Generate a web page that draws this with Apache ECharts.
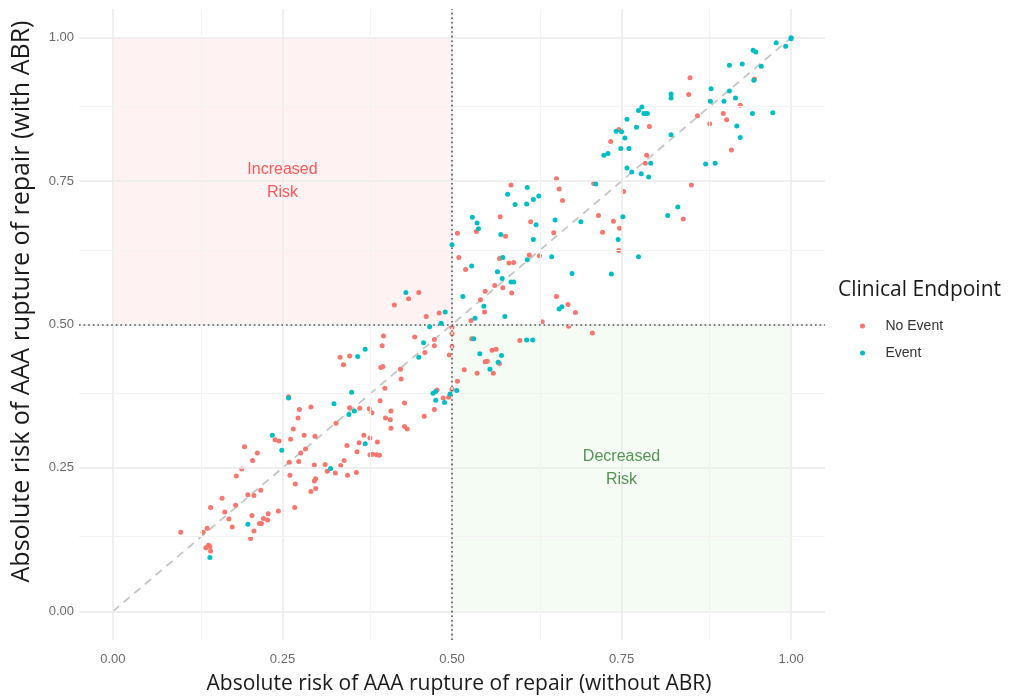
<!DOCTYPE html>
<html><head><meta charset="utf-8">
<script src="https://cdn.jsdelivr.net/npm/echarts@6/dist/echarts.min.js"></script>
<style>html,body{margin:0;padding:0;background:#fff}#c{width:1012px;height:700px}</style>
</head><body><div id="c"></div>
<script>
const majorTicks = [0, 0.25, 0.5, 0.75, 1];
const minorTicks = [0.125, 0.375, 0.625, 0.875];
const threshold = 0.5;
const diagonal = [[0, 0], [1, 1]];
const seriesNames = ['No Event', 'Event'];
const increasedRegion = [[0, 0.5], [0.5, 1]];
const decreasedRegion = [[0.5, 0], [1, 0.5]];
const increasedLabel = ['Increased\nRisk', 0.25, 0.75];
const decreasedLabel = ['Decreased\nRisk', 0.75, 0.25];

const noEvent = [
[0.259,0.374],[0.275,0.352],[0.273,0.337],[0.266,0.318],[0.239,0.299],[0.245,0.297],[0.262,0.300],[0.194,0.287],
[0.213,0.276],[0.206,0.263],[0.260,0.260],[0.274,0.261],[0.190,0.248],[0.182,0.236],[0.261,0.237],[0.269,0.222],
[0.218,0.211],[0.208,0.202],[0.199,0.203],[0.161,0.197],[0.144,0.181],[0.181,0.185],[0.165,0.173],[0.244,0.175],
[0.268,0.181],[0.171,0.161],[0.205,0.167],[0.176,0.147],[0.229,0.170],[0.222,0.162],[0.228,0.159],[0.216,0.153],
[0.219,0.153],[0.208,0.140],[0.203,0.127],[0.100,0.138],[0.133,0.138],[0.139,0.145],[0.137,0.111],[0.141,0.115],
[0.143,0.113],[0.144,0.105],
[0.451,0.556],[0.436,0.545],[0.415,0.534],[0.462,0.514],[0.481,0.520],[0.500,0.495],[0.500,0.484],[0.445,0.478],
[0.474,0.474],[0.474,0.463],[0.500,0.462],[0.460,0.451],[0.496,0.447],[0.399,0.480],[0.397,0.463],[0.335,0.443],
[0.349,0.445],[0.340,0.430],[0.395,0.425],[0.398,0.427],[0.424,0.422],[0.425,0.405],[0.401,0.389],[0.478,0.386],
[0.500,0.387],[0.495,0.373],[0.487,0.372],[0.508,0.401],[0.518,0.421],[0.394,0.367],[0.430,0.363],[0.474,0.352],
[0.459,0.340],[0.378,0.353],[0.382,0.346],[0.410,0.349],[0.402,0.337],[0.409,0.334],[0.410,0.319],[0.430,0.322],
[0.434,0.318],[0.349,0.355],[0.364,0.354],[0.329,0.328],[0.292,0.356],[0.282,0.307],[0.298,0.305],[0.370,0.307],
[0.379,0.302],[0.363,0.294],[0.390,0.295],[0.345,0.289],[0.360,0.278],[0.341,0.263],[0.379,0.273],[0.383,0.274],
[0.389,0.273],[0.393,0.272],[0.284,0.283],[0.277,0.276],[0.297,0.255],[0.313,0.256],[0.316,0.244],[0.328,0.241],
[0.336,0.254],[0.346,0.237],[0.359,0.242],[0.299,0.231],[0.292,0.209],[0.299,0.214],[0.297,0.227],
[0.654,0.754],[0.658,0.736],[0.663,0.716],[0.587,0.743],[0.709,0.746],[0.716,0.690],[0.616,0.679],[0.650,0.660],
[0.571,0.688],[0.536,0.662],[0.579,0.654],[0.508,0.659],[0.510,0.617],[0.520,0.596],[0.570,0.615],[0.584,0.607],
[0.591,0.608],[0.614,0.621],[0.629,0.620],[0.575,0.564],[0.563,0.568],[0.549,0.558],[0.542,0.543],[0.588,0.555],
[0.548,0.522],[0.528,0.507],[0.654,0.549],[0.671,0.535],[0.682,0.521],[0.633,0.505],[0.672,0.497],[0.707,0.485],
[0.529,0.475],[0.600,0.472],[0.559,0.455],[0.565,0.457],[0.549,0.435],[0.552,0.436],[0.570,0.432],[0.537,0.415],
[0.561,0.415],
[0.753,0.732],[0.785,0.781],[0.853,0.743],[0.841,0.684],[0.738,0.680],[0.722,0.661],[0.747,0.668],[0.746,0.629],
[0.851,0.930],[0.849,0.901],[0.946,0.928],[0.925,0.882],[0.900,0.868],[0.905,0.857],[0.880,0.850],[0.862,0.864],
[0.912,0.804],[0.791,0.845],[0.746,0.840],[0.734,0.819],[0.787,0.795]
];

const event = [
[0.259,0.372],[0.235,0.307],[0.249,0.281],[0.199,0.152],[0.143,0.094],
[0.432,0.556],[0.516,0.549],[0.490,0.522],[0.484,0.502],[0.467,0.496],[0.458,0.468],[0.451,0.443],[0.372,0.457],
[0.361,0.444],[0.352,0.382],[0.472,0.380],[0.476,0.383],[0.507,0.385],[0.497,0.379],[0.476,0.368],[0.489,0.364],
[0.356,0.349],[0.348,0.343],[0.326,0.362],[0.372,0.292],[0.321,0.249],
[0.611,0.739],[0.582,0.727],[0.593,0.709],[0.610,0.710],[0.620,0.718],[0.628,0.724],[0.712,0.745],[0.690,0.679],
[0.652,0.682],[0.624,0.674],[0.620,0.648],[0.530,0.687],[0.537,0.677],[0.539,0.667],[0.572,0.657],[0.500,0.639],
[0.529,0.602],[0.575,0.617],[0.611,0.613],[0.647,0.618],[0.567,0.592],[0.574,0.580],[0.587,0.574],[0.591,0.574],
[0.547,0.532],[0.534,0.511],[0.578,0.514],[0.677,0.589],[0.658,0.527],[0.662,0.531],[0.532,0.475],[0.610,0.473],
[0.619,0.473],[0.541,0.449],[0.573,0.446],[0.568,0.434],[0.556,0.422],
[0.758,0.773],[0.765,0.766],[0.779,0.763],[0.790,0.757],[0.793,0.781],[0.874,0.780],[0.833,0.705],[0.818,0.690],
[0.752,0.688],[0.745,0.648],[0.775,0.618],[0.735,0.588],
[1.000,0.998],[1.000,1.000],[0.978,0.991],[0.992,0.985],[0.944,0.978],[0.948,0.975],[0.956,0.950],[0.928,0.954],
[0.909,0.952],[0.823,0.902],[0.823,0.895],[0.945,0.926],[0.882,0.911],[0.909,0.907],[0.881,0.889],[0.901,0.889],
[0.918,0.895],[0.943,0.868],[0.973,0.869],[0.920,0.846],[0.925,0.826],[0.888,0.781],[0.772,0.844],[0.758,0.858],
[0.775,0.873],[0.780,0.879],[0.783,0.868],[0.786,0.868],[0.788,0.868],[0.742,0.837],[0.750,0.836],[0.755,0.825],
[0.749,0.807],[0.761,0.807],[0.724,0.795],[0.730,0.798],[0.823,0.831]
];

const chart = echarts.init(document.getElementById('c'), null, {renderer: 'canvas'});
const tickFont = 'Liberation Sans';
const titleFont = 'Open Sans';

const gridLines = [];
majorTicks.forEach(v => {
  gridLines.push({xAxis: v, lineStyle: {color: '#ebebeb', width: 1.6, type: 'solid'}});
  gridLines.push({yAxis: v, lineStyle: {color: '#ebebeb', width: 1.6, type: 'solid'}});
});
minorTicks.forEach(v => {
  gridLines.push({xAxis: v, lineStyle: {color: '#f3f3f3', width: 1.2, type: 'solid'}});
  gridLines.push({yAxis: v, lineStyle: {color: '#f3f3f3', width: 1.2, type: 'solid'}});
});

function area(r, color) {
  return [{xAxis: r[0][0], yAxis: r[0][1], itemStyle: {color: color}}, {xAxis: r[1][0], yAxis: r[1][1]}];
}

const option = {
  animation: false,
  backgroundColor: '#ffffff',
  grid: {left: 79, right: 187, top: 9, bottom: 59, containLabel: false},
  xAxis: {
    type: 'value', min: -0.05, max: 1.05,
    splitLine: {show: false}, axisLine: {show: false}, axisTick: {show: false},
    axisLabel: {customValues: majorTicks, formatter: v => v.toFixed(2), color: '#6a6a6a', fontSize: 13, fontFamily: tickFont, margin: 13},
    name: 'Absolute risk of AAA rupture of repair (without ABR)',
    nameLocation: 'middle', nameGap: 34,
    nameTextStyle: {fontFamily: titleFont, fontSize: 21, color: '#1a1a1a', padding: [0, 0, 0, 14]}
  },
  yAxis: {
    type: 'value', min: -0.05, max: 1.05,
    splitLine: {show: false}, axisLine: {show: false}, axisTick: {show: false},
    axisLabel: {customValues: majorTicks, formatter: v => v.toFixed(2), color: '#6a6a6a', fontSize: 13, fontFamily: tickFont, margin: 5},
    name: 'Absolute risk of AAA rupture of repair (with ABR)',
    nameLocation: 'middle', nameGap: 45, nameRotate: 90,
    nameTextStyle: {fontFamily: titleFont, fontSize: 25, color: '#1a1a1a', padding: [0, 0, 0, 46]}
  },
  legend: {
    data: seriesNames, orient: 'vertical', left: 855, top: 314,
    icon: 'circle', itemWidth: 24, itemHeight: 5, itemGap: 13, selectedMode: false,
    textStyle: {fontFamily: tickFont, fontSize: 14, color: '#333', lineHeight: 14, padding: [0, 0, 0, 6]}
  },
  graphic: [{
    type: 'text', left: 838, top: 280,
    style: {text: 'Clinical Endpoint', font: '21px "Open Sans"', fill: '#1a1a1a'}
  }],
  series: [
    {
      name: 'gridlines', type: 'line', data: [], silent: true, z: 1,
      markLine: {silent: true, symbol: 'none', label: {show: false}, animation: false, data: gridLines}
    },
    {
      name: 'regions', type: 'line', data: [], silent: true, z: 2,
      markArea: {silent: true, label: {show: false}, data: [
        area(increasedRegion, 'rgba(248,118,109,0.09)'),
        area(decreasedRegion, 'rgba(60,200,60,0.06)')
      ]}
    },
    {
      name: 'diagonal', type: 'line', data: diagonal, silent: true, z: 3,
      symbol: 'none', lineStyle: {color: '#c6c6c6', width: 1.8, type: [8, 6]},
      markLine: {silent: true, symbol: 'none', label: {show: false},
        lineStyle: {color: '#555555', width: 1.6, type: [1.6, 3]},
        data: [{xAxis: threshold}, {yAxis: threshold}]}
    },
    {
      name: seriesNames[0], type: 'scatter', data: noEvent, z: 4,
      symbolSize: 5, itemStyle: {color: '#F8766D', opacity: 1}
    },
    {
      name: seriesNames[1], type: 'scatter', data: event, z: 5,
      symbolSize: 5, itemStyle: {color: '#00BFC4', opacity: 1}
    },
    {
      name: 'labels', type: 'scatter', z: 6, silent: true, symbolSize: 1,
      itemStyle: {color: 'rgba(0,0,0,0)'},
      data: [
        {value: [increasedLabel[1], increasedLabel[2]], label: {formatter: increasedLabel[0], color: '#ff3030'}},
        {value: [decreasedLabel[1], decreasedLabel[2]], label: {formatter: decreasedLabel[0], color: '#2a7a2a'}}
      ],
      label: {show: true, position: 'inside', fontFamily: tickFont, fontSize: 16, lineHeight: 23, align: 'center', verticalAlign: 'middle'}
    }
  ]
};
chart.setOption(option);
</script>
</body></html>
